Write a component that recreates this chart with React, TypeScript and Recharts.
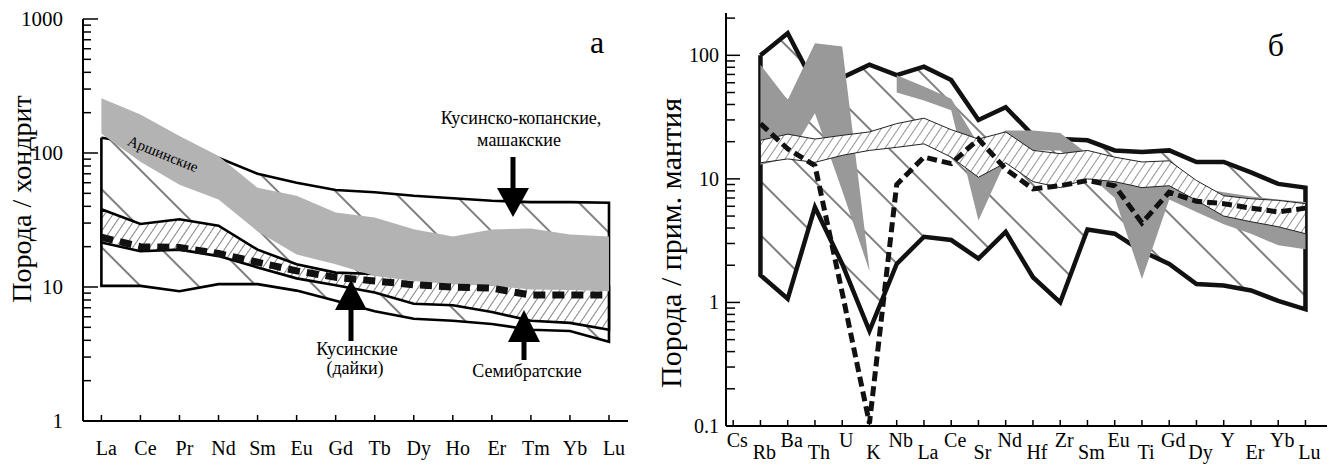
import React from 'react';
import { Area, ComposedChart, Line, XAxis, YAxis } from 'recharts';

const FONT = "'Liberation Serif', 'Times New Roman', Times, serif";
const FRAME = { stroke: '#000', strokeWidth: 2 };

// ---------- panel а: REE, rock / chondrite ----------
const REE = ['La', 'Ce', 'Pr', 'Nd', 'Sm', 'Eu', 'Gd', 'Tb', 'Dy', 'Ho', 'Er', 'Tm', 'Yb', 'Lu'];
// Кусинско-копанские, машакские (wide hatch envelope)
const KOP_HI = [130, 118, 105, 92, 70, 60, 53, 51, 48, 46, 44, 43, 43, 42.5];
const KOP_LO = [10.2, 10.2, 9.3, 10.5, 10.5, 9.4, 7.9, 6.6, 5.8, 5.6, 5.3, 4.8, 4.7, 3.9];
// Семибратские (fine hatch)
const SEM_HI = [38, 29.5, 32, 28.7, 19, 14.8, 12.8, 12.5, 11.5, 11, 10.5, 10, 10, 10];
const SEM_LO = [21.5, 18.5, 19, 17, 14, 11.6, 10.3, 9.1, 7.5, 7.3, 6.5, 5.6, 5.4, 4.8];
// Аршинские (grey field)
const ARSH_HI = [256, 194, 134, 95, 55, 48, 36, 33, 27, 23.8, 26.9, 27.3, 24.7, 23.8];
const ARSH_LO = [139, 86, 58, 45, 26, 17.5, 14.8, 12.1, 11.1, 10.5, 10.2, 9.6, 9.5, 9.3];
// Кусинские дайки (dashed)
const KUS_DIKES = [23.5, 20, 19.7, 17.8, 15.3, 13.2, 11.8, 11.1, 10.4, 10, 9.8, 8.7, 8.7, 8.7];

// ---------- panel б: spider, rock / primitive mantle ----------
const SPIDER = ['Cs', 'Rb', 'Ba', 'Th', 'U', 'K', 'Nb', 'La', 'Ce', 'Sr', 'Nd', 'Hf', 'Zr', 'Sm', 'Eu', 'Ti', 'Gd', 'Dy', 'Y', 'Er', 'Yb', 'Lu'];
// values below start at Rb (no Cs data)
const ENV_HI = [100, 151, 57, 66, 84, 69, 81, 63, 30, 38, 22.5, 21, 20.5, 17, 16.5, 17, 13.7, 13.7, 11.3, 9.1, 8.5];
const ENV_LO = [1.66, 1.07, 5.9, 2.05, 0.59, 2.05, 3.4, 3.2, 2.26, 3.72, 1.6, 1.0, 3.9, 3.6, 2.6, 2.05, 1.41, 1.37, 1.25, 1.03, 0.88];
const BAND_HI = [20.5, 23, 21, 22.5, 24, 28, 31, 25, 21, 24, 17, 16, 17, 15, 13.7, 14, 9.7, 7.3, 6.9, 6.7, 6.3];
const BAND_LO = [13.5, 14.5, 13.6, 15.5, 17, 18, 19.2, 15, 10.3, 13.5, 9.5, 8.5, 10, 9.5, 8.5, 8.8, 6.7, 5, 4.5, 4.1, 3.6];
// grey field, part 1: Rb..K (ends in the K spike)
const GREY1_HI = [84, 43.5, 125, 118, 1.85];
const GREY1_LO = [13, 14.6, 34, 8, 1.8];
// grey field, part 2: Nb..Lu
const GREY2_HI = [69, 56, 44.5, 19, 24.6, 24.6, 23.5, 16, 11.5, 10, 9, 8.5, 7.8, 7.2, 6.8, 6.5];
const GREY2_LO = [50, 43, 36, 4.6, 14, 17, 17, 11, 7, 1.55, 6.8, 5.4, 4.3, 3.6, 2.9, 2.7];
const DASH_B = [28, 17.5, 12.8, 1.2, 0.105, 9, 15, 13.3, 21, 12, 8.3, 8.8, 9.7, 8.8, 4.4, 7.8, 6.6, 6.3, 5.8, 5.4, 5.8];

const logTicks = (from: number, to: number) => {
  const out: number[] = [];
  for (let e = from; e < to; e++) for (let m = 1; m < 10; m++) out.push(+(m * 10 ** e).toPrecision(3));
  out.push(10 ** to);
  return out;
};
const TICKS_A = logTicks(0, 3);
const TICKS_B = [...logTicks(-1, 2), 200];
const isDecade = (v: number) => Math.abs(Math.log10(v) - Math.round(Math.log10(v))) < 1e-9;

const reeRows = REE.map((_, i) => ({
  x: i,
  kop: [KOP_LO[i], KOP_HI[i]],
  sem: [SEM_LO[i], SEM_HI[i]],
  arsh: [ARSH_LO[i], ARSH_HI[i]],
  kus: KUS_DIKES[i],
}));
const spiderRows = ENV_HI.map((_, i) => {
  const g2 = i - 5;
  return {
    x: i + 1,
    env: [ENV_LO[i], ENV_HI[i]],
    band: [BAND_LO[i], BAND_HI[i]],
    grey1: i < GREY1_HI.length ? [GREY1_LO[i], GREY1_HI[i]] : null,
    grey2: g2 >= 0 ? [GREY2_LO[g2], GREY2_HI[g2]] : null,
    dash: DASH_B[i],
  };
});

// closed outline: upper line, down the right end, lower line back, up the left end
const ring = (lo: number[], hi: number[], offset: number) => [
  ...hi.map((y, i) => ({ x: i + offset, y })),
  ...lo.map((y, i) => ({ x: i + offset, y })).reverse(),
  { x: offset, y: hi[0] },
];

const leftTick = (major: number, minor: number, fs: number, gap: number) => (p: any) => {
  const v = p.payload.value;
  const big = isDecade(v);
  return (
    <g>
      <line x1={p.x} x2={p.x + (big ? major : minor)} y1={p.y} y2={p.y} stroke="#000" strokeWidth={1.5} />
      {big && (
        <text x={p.x - gap} y={p.y} textAnchor="end" dominantBaseline="central" fontSize={fs}
          style={{ fontFamily: FONT }} fill="#000">
          {String(v)}
        </text>
      )}
    </g>
  );
};
const rightTick = (major: number, minor: number) => (p: any) => {
  const big = isDecade(p.payload.value);
  return <line x1={p.x} x2={p.x - (big ? major : minor)} y1={p.y} y2={p.y} stroke="#000" strokeWidth={1.5} />;
};
const topTick = (p: any) => <line x1={p.x} x2={p.x} y1={p.y} y2={p.y + 7} stroke="#000" strokeWidth={1.5} />;

const reeTick = (p: any) => (
  <g>
    <line x1={p.x} x2={p.x} y1={p.y} y2={p.y - 6} stroke="#000" strokeWidth={1.5} />
    <text x={p.x + 5} y={p.y + 34} textAnchor="middle" fontSize={20} style={{ fontFamily: FONT }} fill="#000">
      {REE[p.payload.value]}
    </text>
  </g>
);
const spiderTick = (p: any) => {
  const i = p.payload.value;
  return (
    <g>
      <line x1={p.x} x2={p.x} y1={p.y} y2={p.y - 6} stroke="#000" strokeWidth={1.5} />
      <text x={p.x + 4} y={p.y + (i % 2 ? 33 : 21)} textAnchor="middle" fontSize={20} style={{ fontFamily: FONT }} fill="#000">
        {SPIDER[i]}
      </text>
    </g>
  );
};

const reeIdx = REE.map((_, i) => i);
const spiderIdx = SPIDER.map((_, i) => i);
const X_A: [number, number] = [-0.471, 13.487];
const X_B: [number, number] = [-0.264, 21.79];

const common = { xAxisId: 'b', yAxisId: 'l', type: 'linear' as const, dot: false, activeDot: false, isAnimationActive: false };

// axes for one panel; the lower layer gets the same geometry but draws nothing
function axes(cfg: { x: [number, number]; idx: number[]; bottom: any; bh: number; y: [number, number]; yt: number[]; lw: number; left: any; right: any }, show: boolean) {
  const off = { tick: false as const, axisLine: false as const };
  return [
    <XAxis key="xb" xAxisId="b" dataKey="x" type="number" domain={cfg.x} allowDataOverflow ticks={cfg.idx} interval={0}
      tickSize={0} tickMargin={0} tickLine={false} height={cfg.bh} {...(show ? { tick: cfg.bottom, axisLine: FRAME } : off)} />,
    <XAxis key="xt" xAxisId="t" orientation="top" dataKey="x" type="number" domain={cfg.x} allowDataOverflow ticks={cfg.idx}
      interval={0} tickSize={0} tickMargin={0} tickLine={false} height={0} {...(show ? { tick: topTick, axisLine: FRAME } : off)} />,
    <YAxis key="yl" yAxisId="l" scale="log" domain={cfg.y} allowDataOverflow ticks={cfg.yt} interval={0}
      tickSize={0} tickMargin={0} tickLine={false} width={cfg.lw} {...(show ? { tick: cfg.left, axisLine: FRAME } : off)} />,
    <YAxis key="yr" yAxisId="r" orientation="right" scale="log" domain={cfg.y} allowDataOverflow ticks={cfg.yt}
      interval={0} tickSize={0} tickMargin={0} tickLine={false} width={0} {...(show ? { tick: cfg.right, axisLine: FRAME } : off)} />,
  ];
}

const AX_A = { x: X_A, idx: reeIdx, bottom: reeTick, bh: 53, y: [1, 1000] as [number, number], yt: TICKS_A, lw: 83, left: leftTick(15, 8, 21, 20), right: rightTick(15, 8) };
const AX_B = { x: X_B, idx: spiderIdx, bottom: spiderTick, bh: 48, y: [0.1, 220] as [number, number], yt: TICKS_B, lw: 66, left: leftTick(14, 9, 20, 7), right: rightTick(14, 9) };
const M_A = { top: 19, right: 32, bottom: 0, left: 0 };
const M_B = { top: 13, right: 14, bottom: 0, left: 0 };
const layer: React.CSSProperties = { position: 'absolute', left: 0, top: 0 };

function ReePanel() {
  return (
    <>
      <div style={layer}>
        <ComposedChart width={660} height={474} data={reeRows} margin={M_A}>
          <defs>
            <pattern id="a-wide" patternUnits="userSpaceOnUse" width={41} height={41} patternTransform="rotate(-45)">
              <rect width={41} height={41} fill="#fff" />
              <line x1={20} y1={0} x2={20} y2={41} stroke="#000" strokeWidth={1} />
            </pattern>
            <pattern id="a-fine" patternUnits="userSpaceOnUse" width={7} height={7} patternTransform="rotate(34)">
              <rect width={7} height={7} fill="#fff" />
              <line x1={3.5} y1={0} x2={3.5} y2={7} stroke="#666" strokeWidth={0.8} />
            </pattern>
          </defs>
          {axes(AX_A, false)}
          <Area {...common} dataKey="kop" fill="url(#a-wide)" fillOpacity={1} stroke="none" />
          <Area {...common} data={ring(KOP_LO, KOP_HI, 0)} dataKey="y" fill="none" stroke="#000" strokeWidth={2.6} />
          <Area {...common} dataKey="sem" fill="url(#a-fine)" fillOpacity={1} stroke="none" />
          <Area {...common} data={ring(SEM_LO, SEM_HI, 0)} dataKey="y" fill="none" stroke="#000" strokeWidth={2.6} />
        </ComposedChart>
      </div>
      <div style={layer}>
        <ComposedChart width={660} height={474} data={reeRows} margin={M_A}>
          {axes(AX_A, true)}
          <Area {...common} dataKey="arsh" fill="#b3b3b3" fillOpacity={1} stroke="none" />
          <Line {...common} dataKey="kus" stroke="#111" strokeWidth={7} strokeDasharray="12 7" />
        </ComposedChart>
      </div>
    </>
  );
}

function SpiderPanel() {
  return (
    <>
      <div style={layer}>
        <ComposedChart width={681} height={474} data={spiderRows} margin={M_B}>
          <defs>
            <pattern id="b-wide" patternUnits="userSpaceOnUse" width={38} height={38} patternTransform="rotate(-45)">
              <rect width={38} height={38} fill="#fff" />
              <line x1={19} y1={0} x2={19} y2={38} stroke="#000" strokeWidth={1} />
            </pattern>
            <pattern id="b-fine" patternUnits="userSpaceOnUse" width={7} height={7} patternTransform="rotate(34)">
              <rect width={7} height={7} fill="#fff" />
              <line x1={3.5} y1={0} x2={3.5} y2={7} stroke="#777" strokeWidth={0.8} />
            </pattern>
          </defs>
          {axes(AX_B, false)}
          <Area {...common} dataKey="env" fill="url(#b-wide)" fillOpacity={1} stroke="none" />
          <Area {...common} data={ring(ENV_LO, ENV_HI, 1)} dataKey="y" fill="none" stroke="#111" strokeWidth={4.5} />
        </ComposedChart>
      </div>
      <div style={layer}>
        <ComposedChart width={681} height={474} data={spiderRows} margin={M_B}>
          {axes(AX_B, true)}
          <Area {...common} dataKey="grey1" fill="#999" fillOpacity={1} stroke="none" />
          <Area {...common} dataKey="grey2" fill="#999" fillOpacity={1} stroke="none" />
          <Area {...common} dataKey="band" fill="url(#b-fine)" fillOpacity={1} stroke="none" />
          <Area {...common} data={ring(BAND_LO, BAND_HI, 1)} dataKey="y" fill="none" stroke="#222" strokeWidth={1} />
          <Line {...common} dataKey="dash" stroke="#111" strokeWidth={5} strokeDasharray="10 5" />
        </ComposedChart>
      </div>
    </>
  );
}

const Arrow = ({ x, tip, base, tail, half }: { x: number; tip: number; base: number; tail: number; half: number }) => (
  <g>
    <line x1={x} x2={x} y1={base} y2={tail} stroke="#000" strokeWidth={5} />
    <polygon points={`${x - half},${base} ${x + half},${base} ${x},${tip}`} fill="#000" />
  </g>
);

function Overlay() {
  return (
    <svg width={1341} height={474} style={{ position: 'absolute', left: 0, top: 0, pointerEvents: 'none', fontFamily: FONT }}
      fill="#000">
      <text transform="translate(21,199) rotate(-90)" textAnchor="middle" dominantBaseline="central" fontSize={28}>
        Порода / хондрит
      </text>
      <text transform="translate(670,243) rotate(-90)" textAnchor="middle" dominantBaseline="central" fontSize={30}>
        Порода / прим. мантия
      </text>
      <text x={597} y={53} textAnchor="middle" fontSize={32}>а</text>
      <text x={1276} y={56} textAnchor="middle" fontSize={32}>б</text>

      <text transform="translate(163,154) rotate(22)" textAnchor="middle" dominantBaseline="central" fontSize={15}>
        Аршинские
      </text>
      <text x={521} y={124} textAnchor="middle" fontSize={18}>Кусинско-копанские,</text>
      <text x={519} y={146} textAnchor="middle" fontSize={18}>машакские</text>
      <Arrow x={513} tip={217} base={188} tail={157} half={16} />

      <text x={357} y={355} textAnchor="middle" fontSize={18}>Кусинские</text>
      <text x={355} y={374} textAnchor="middle" fontSize={18}>(дайки)</text>
      <Arrow x={351} tip={280} base={310} tail={341} half={16} />

      <text x={527} y={377} textAnchor="middle" fontSize={18}>Семибратские</text>
      <Arrow x={524} tip={310} base={342} tail={360} half={16} />
    </svg>
  );
}

export default function App() {
  return (
    <div style={{ position: 'absolute', left: 0, top: 0, width: 1341, height: 474, background: '#fff', fontFamily: FONT }}>
      <div style={{ position: 'absolute', left: 0, top: 0 }}>
        <ReePanel />
      </div>
      <div style={{ position: 'absolute', left: 660, top: 0 }}>
        <SpiderPanel />
      </div>
      <Overlay />
    </div>
  );
}
